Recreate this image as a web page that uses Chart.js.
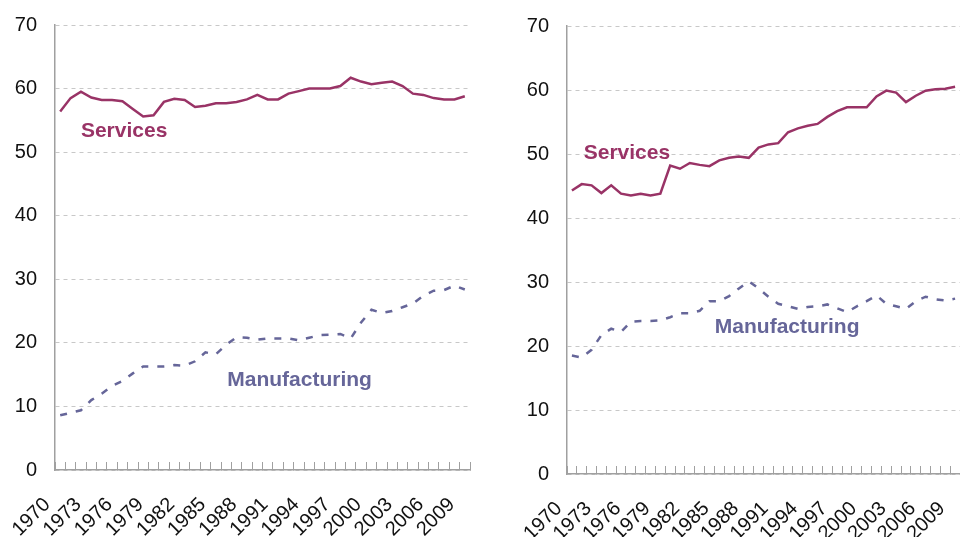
<!DOCTYPE html>
<html>
<head>
<meta charset="utf-8">
<script src="https://cdn.jsdelivr.net/npm/chart.js@4/dist/chart.umd.min.js"></script>
<style>
  html, body { margin: 0; padding: 0; background: #fff; }
  #wrap { position: relative; width: 960px; height: 537px; overflow: hidden; }
  .panel { position: absolute; top: 0; }
</style>
</head>
<body>
<div id="wrap">
  <canvas id="leftChart" class="panel" width="480" height="537" style="left:0"></canvas>
  <canvas id="rightChart" class="panel" width="480" height="537" style="left:480px"></canvas>
</div>
<script>
const years = ["1970","1971","1972","1973","1974","1975","1976","1977","1978","1979",
  "1980","1981","1982","1983","1984","1985","1986","1987","1988","1989",
  "1990","1991","1992","1993","1994","1995","1996","1997","1998","1999",
  "2000","2001","2002","2003","2004","2005","2006","2007","2008","2009"];

const leftServices = [56.4,58.5,59.5,58.6,58.2,58.2,58.0,56.8,55.6,55.8,
  57.9,58.4,58.2,57.1,57.3,57.7,57.7,57.9,58.3,59.0,
  58.3,58.3,59.2,59.6,60.0,60.0,60.0,60.4,61.7,61.1,
  60.7,60.9,61.1,60.4,59.2,59.0,58.5,58.3,58.3,58.8];
const leftManufacturing = [8.6,9.0,9.4,11.0,12.0,13.2,14.0,15.2,16.3,16.3,
  16.3,16.5,16.4,17.1,18.5,18.2,19.7,20.9,20.8,20.5,
  20.7,20.7,20.7,20.4,20.8,21.2,21.3,21.4,20.7,23.2,
  25.2,24.7,25.0,25.6,26.2,27.4,28.2,28.3,29.0,28.4];

const rightServices = [44.3,45.3,45.1,43.9,45.1,43.8,43.5,43.8,43.5,43.8,
  48.2,47.7,48.6,48.3,48.1,49.0,49.4,49.6,49.4,51.0,
  51.5,51.7,53.4,54.0,54.4,54.7,55.8,56.7,57.3,57.3,
  57.3,59.0,59.9,59.6,58.1,59.1,59.9,60.1,60.2,60.5];
const rightManufacturing = [18.5,18.2,19.4,21.7,22.7,22.2,23.8,23.9,23.9,24.0,
  24.5,25.1,25.1,25.5,27.0,27.0,27.8,29.0,30.1,29.0,
  27.7,26.6,26.2,25.8,26.1,26.2,26.5,25.9,25.3,26.2,
  27.0,27.9,26.6,26.2,25.8,27.0,27.7,27.3,27.1,27.4];

const servicesColor = "#993366";
const manufColor = "#666699";

// in-chart series labels, placed by category index / value
const leftNotes = [
  { text: "Services", at: 2, value: 53.3, color: servicesColor },
  { text: "Manufacturing", at: 16.1, value: 14.2, color: manufColor }
];
const rightNotes = [
  { text: "Services", at: 1.2, value: 50.2, color: servicesColor },
  { text: "Manufacturing", at: 14.55, value: 23.0, color: manufColor }
];

const seriesNotes = {
  id: "seriesNotes",
  afterDatasetsDraw(chart, args, opts) {
    const c = chart.ctx;
    const xs = chart.scales.x, ys = chart.scales.y;
    c.save();
    c.font = 'bold 21px "Liberation Sans", Arial, sans-serif';
    c.textAlign = "left";
    c.textBaseline = "middle";
    opts.notes.forEach(n => {
      c.fillStyle = n.color;
      c.fillText(n.text, xs.getPixelForValue(n.at), ys.getPixelForValue(n.value));
    });
    c.restore();
  }
};

function makeChart(id, services, manufacturing, notes, yWidth, xHeight, topPad, rightPad) {
  return new Chart(document.getElementById(id), {
    type: "line",
    data: {
      labels: years,
      datasets: [
        { data: services, borderColor: servicesColor, borderWidth: 2.5, pointRadius: 0, tension: 0 },
        { data: manufacturing, borderColor: manufColor, borderWidth: 2.5, borderDash: [7, 9], pointRadius: 0, tension: 0 }
      ]
    },
    options: {
      responsive: false,
      animation: false,
      layout: { padding: { top: topPad, right: rightPad, left: 0, bottom: 0 } },
      plugins: {
        legend: { display: false },
        tooltip: { enabled: false },
        seriesNotes: { notes }
      },
      scales: {
        x: {
          offset: true,
          grid: { drawOnChartArea: false, offset: true, tickLength: -8, tickColor: "#a0a0a0", tickWidth: 1 },
          border: { color: "#a0a0a0", width: 1.5 },
          ticks: {
            autoSkip: false, minRotation: 45, maxRotation: 45, padding: 31, labelOffset: -13,
            color: "#111", font: { family: '"Liberation Sans", Arial, sans-serif', size: 20 },
            callback: (v, i) => (i % 3 === 0 ? years[i] : "")
          },
          afterFit: s => { s.height = xHeight; s.paddingLeft = 0; s.paddingRight = 0; }
        },
        y: {
          min: 0, max: 70,
          grid: { color: "#c8c8c8", drawTicks: false },
          border: { color: "#a0a0a0", width: 1.5, dash: [4, 4] },
          ticks: {
            stepSize: 10, padding: 18, color: "#111",
            font: { family: '"Liberation Sans", Arial, sans-serif', size: 20 }
          },
          afterFit: s => { s.width = yWidth; s.paddingTop = 0; s.paddingBottom = 0; }
        }
      }
    },
    plugins: [seriesNotes]
  });
}

makeChart("leftChart", leftServices, leftManufacturing, leftNotes, 55, 67, 25, 10);
makeChart("rightChart", rightServices, rightManufacturing, rightNotes, 87, 63, 26, 0);
</script>
</body>
</html>
